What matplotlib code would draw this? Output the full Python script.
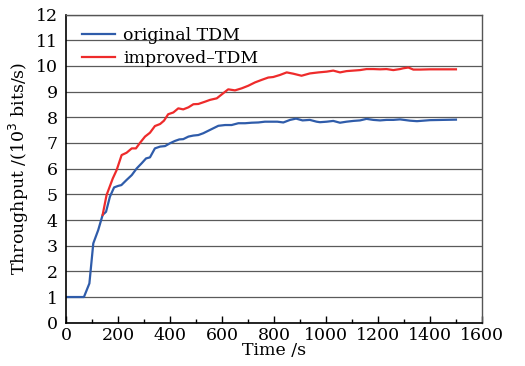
import matplotlib
matplotlib.use('Agg')
import matplotlib.pyplot as plt
from matplotlib.ticker import MultipleLocator

plt.rcParams['font.family'] = ['DejaVu Serif']

# original TDM
t_orig = [0, 69, 90, 105, 124, 141, 154, 169, 185, 201, 213, 233, 253, 272, 291,
          308, 323, 342, 362, 381, 400, 419, 436, 451, 471, 490, 509, 528, 554,
          586, 612, 637, 663, 689, 714, 740, 765, 791, 813, 836, 862, 885, 910,
          938, 964, 977, 1003, 1028, 1054, 1079, 1105, 1131, 1156, 1182, 1208,
          1233, 1259, 1285, 1323, 1350, 1400, 1450, 1500]
v_orig = [1.0, 1.0, 1.53, 3.09, 3.61, 4.2, 4.32, 4.91, 5.27, 5.33, 5.36, 5.56,
          5.75, 6.01, 6.21, 6.40, 6.44, 6.79, 6.86, 6.88, 6.99, 7.08, 7.14, 7.15,
          7.25, 7.29, 7.31, 7.38, 7.51, 7.67, 7.70, 7.70, 7.77, 7.77, 7.79, 7.80,
          7.83, 7.83, 7.83, 7.80, 7.90, 7.95, 7.88, 7.90, 7.83, 7.81, 7.83, 7.86,
          7.79, 7.83, 7.86, 7.88, 7.94, 7.90, 7.88, 7.90, 7.90, 7.92, 7.87, 7.85,
          7.89, 7.90, 7.91]

# improved-TDM
t_impr = [141, 156, 180, 195, 214, 233, 253, 269, 285, 304, 323, 342, 362, 377,
          393, 413, 432, 451, 471, 490, 509, 535, 554, 580, 605, 624, 650, 676,
          701, 727, 753, 778, 797, 823, 849, 874, 906, 938, 971, 1003, 1028,
          1054, 1079, 1105, 1131, 1156, 1182, 1208, 1233, 1259, 1285, 1297,
          1317, 1336, 1362, 1400, 1450, 1500]
v_impr = [4.2, 4.97, 5.62, 5.95, 6.53, 6.62, 6.79, 6.79, 7.01, 7.25, 7.40, 7.66,
          7.74, 7.87, 8.12, 8.19, 8.35, 8.31, 8.39, 8.51, 8.52, 8.61, 8.68, 8.74,
          8.94, 9.09, 9.05, 9.13, 9.23, 9.36, 9.46, 9.55, 9.57, 9.65, 9.75, 9.70,
          9.62, 9.71, 9.75, 9.78, 9.82, 9.75, 9.80, 9.82, 9.84, 9.88, 9.88, 9.87,
          9.88, 9.84, 9.88, 9.91, 9.94, 9.86, 9.86, 9.87, 9.87, 9.87]

fig = plt.figure(figsize=(5.25, 3.66), dpi=100)
ax = fig.add_axes([0.1257, 0.1183, 0.7923, 0.8417])

ax.plot(t_orig, v_orig, color='#2f5caa', lw=1.6, label='original TDM')
ax.plot(t_impr, v_impr, color='#ee2b2b', lw=1.6, label='improved\u2013TDM')

ax.set_xlim(0, 1600)
ax.set_ylim(0, 12)
ax.xaxis.set_major_locator(MultipleLocator(200))
ax.xaxis.set_minor_locator(MultipleLocator(100))
ax.yaxis.set_major_locator(MultipleLocator(1))
ax.tick_params(axis='x', which='major', direction='in', length=5, width=1, labelsize=12.5, pad=3)
ax.tick_params(axis='x', which='minor', direction='in', length=3, width=1)
ax.tick_params(axis='y', which='major', length=0, labelsize=12.5, pad=6)
ax.grid(axis='y', color='#5a5a5a', lw=0.9)
ax.set_axisbelow(True)

for s in ['left', 'bottom']:
    ax.spines[s].set_color('black')
    ax.spines[s].set_linewidth(1.2)
for s in ['top', 'right']:
    ax.spines[s].set_color('#555555')
    ax.spines[s].set_linewidth(1.0)

ax.set_xlabel('Time /s', fontsize=12.5, labelpad=-1)
ax.set_ylabel('Throughput /(10$^3$ bits/s)', fontsize=12.5, labelpad=3)

ax.legend(loc='upper left', bbox_to_anchor=(0.0, 1.01), frameon=False,
          fontsize=12.5, handlelength=1.9, handletextpad=0.5, labelspacing=0.35)

fig.savefig('out.png', dpi=100)
